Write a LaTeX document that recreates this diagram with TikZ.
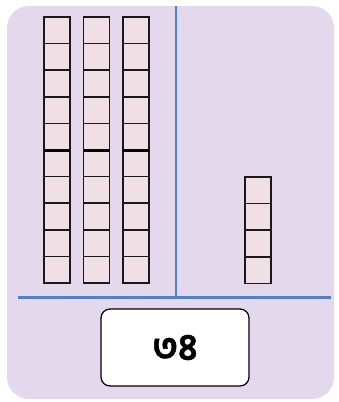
\documentclass[tikz,border=0pt]{standalone}
\usepackage{fontspec}
\newfontfamily\bengalifont[Script=Bengali, FakeBold=1.2]{Hind Siliguri}
\definecolor{panelbg}{HTML}{E4D8EC}
\definecolor{cellfill}{HTML}{F1DFE6}
\definecolor{axisblue}{HTML}{4F7FC8}
\begin{document}
\begin{tikzpicture}[x=1pt,y=-1pt,
    cell/.style={draw=black!90, line width=1.5pt, fill=cellfill},
    answerbox/.style={draw=black, line width=1.2pt, fill=white, rounded corners=9pt,
        minimum width=148pt, minimum height=77pt, inner sep=0pt}]
        % Define dimensions
        \def\cellw{26}
        \def\cellh{26.6}
        \useasboundingbox (0,0) rectangle (339,402);
        \fill[white] (0,0) rectangle (339,402);
        \fill[panelbg, rounded corners=22pt] (7,6) rectangle (334,399);
        % Tens on the left
        \foreach \col/\x in {1/44,2/83.5,3/123} {
            \foreach \row in {0,1,...,9}
                \draw[cell] (\x,17+\row*\cellh) rectangle (\x+\cellw,17+\row*\cellh+\cellh);
            \draw[black, line width=3pt] (\x,17+5*\cellh) -- (\x+\cellw,17+5*\cellh);
        }
        % Ones on the right
        \foreach \row in {0,1,...,3}
            \draw[cell] (245,177+\row*\cellh) rectangle (245+\cellw,177+\row*\cellh+\cellh);
        % Place value axes
        \draw[axisblue, line width=1.2pt] (176,6) -- (176,297);
        \draw[axisblue, line width=3pt] (18,297) -- (331,297);
        \node[answerbox] (answer) at (175,347.5) {\bengalifont\bfseries\fontsize{37}{37}\selectfont ৩৪};
    \end{tikzpicture}
\end{document}
